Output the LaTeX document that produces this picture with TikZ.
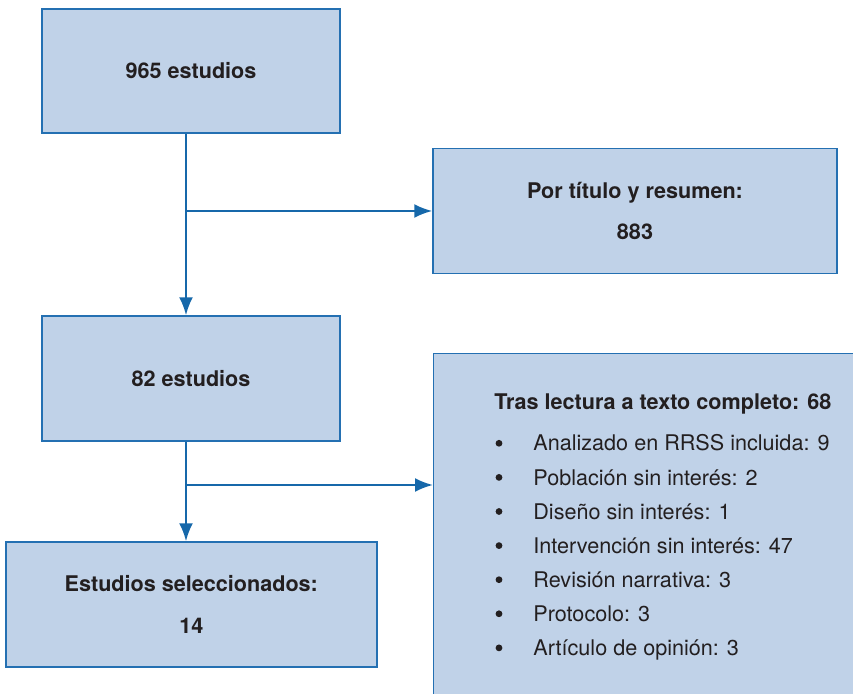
\documentclass[tikz,border=0pt]{standalone}
\usepackage{fontspec}
\setmainfont{TeX Gyre Heros}
\usetikzlibrary{arrows.meta}
\definecolor{boxfill}{RGB}{192,210,232}
\definecolor{boxline}{RGB}{36,112,178}
\definecolor{flowline}{RGB}{22,104,170}
\definecolor{txt}{RGB}{35,31,32}
\tikzstyle{stage}=[draw=boxline,fill=boxfill,line width=0.7pt,inner sep=0pt,text=txt,align=center]
\tikzstyle{entry}=[inner sep=0pt,text=txt]
\tikzstyle{dot}=[circle,fill=txt,inner sep=0pt,minimum size=3.4pt]
\tikzstyle{line} = [draw=flowline, line width=1.15pt, -{Latex[length=9pt,width=7pt]}]

\begin{document}
\begin{tikzpicture}[x=0.5pt,y=-0.5pt,font=\fontsize{10.8}{12}\selectfont]
\useasboundingbox (0,0) rectangle (853,694);
\clip (0,0) rectangle (853,694);

\node[stage,minimum width=149pt,minimum height=62pt] (total) at (191,71) {\textbf{965 estudios}};
\node[stage,minimum width=202pt,minimum height=62.5pt] (title) at (635,211) {\textbf{Por título y resumen:}\\[8.5pt]\textbf{883}};
\node[stage,minimum width=149pt,minimum height=62.5pt] (screened) at (191,378.5) {\textbf{82 estudios}};
\node[stage,minimum width=185.5pt,minimum height=62.5pt] (selected) at (191.3,604.5) {\textbf{Estudios seleccionados:}\\[9pt]\textbf{14}};
\node[stage,anchor=north west,minimum width=260pt,minimum height=200pt] (fulltext) at (433,353) {};

% excluded after full text
\node[entry,anchor=base west] (head) at (494,409.3) {\textbf{Tras lectura a texto completo: 68}};
\node[dot] (b1) at (499,443.3) {};
\node[entry,anchor=base west] (r1) at (533,451) {Analizado en RRSS incluida: 9};
\node[dot] (b2) at (499,477.4) {};
\node[entry,anchor=base west] (r2) at (533,485.1) {Población sin interés: 2};
\node[dot] (b3) at (499,511.5) {};
\node[entry,anchor=base west] (r3) at (533,519.2) {Diseño sin interés: 1};
\node[dot] (b4) at (499,545.6) {};
\node[entry,anchor=base west] (r4) at (533,553.3) {Intervención sin interés: 47};
\node[dot] (b5) at (499,579.7) {};
\node[entry,anchor=base west] (r5) at (533,587.4) {Revisión narrativa: 3};
\node[dot] (b6) at (499,613.8) {};
\node[entry,anchor=base west] (r6) at (533,621.5) {Protocolo: 3};
\node[dot] (b7) at (499,647.9) {};
\node[entry,anchor=base west] (r7) at (533,655.6) {Artículo de opinión: 3};

% flow
\coordinate (split1) at (186,211);
\coordinate (split2) at (186,485);
\draw[line] (total.south -| split1) -- (screened.north -| split1);
\draw[line] (split1) -- (title.west);
\draw[line] (screened.south -| split1) -- (selected.north -| split1);
\draw[line] (split2) -- (split2 -| fulltext.west);
\end{tikzpicture}
\end{document}
